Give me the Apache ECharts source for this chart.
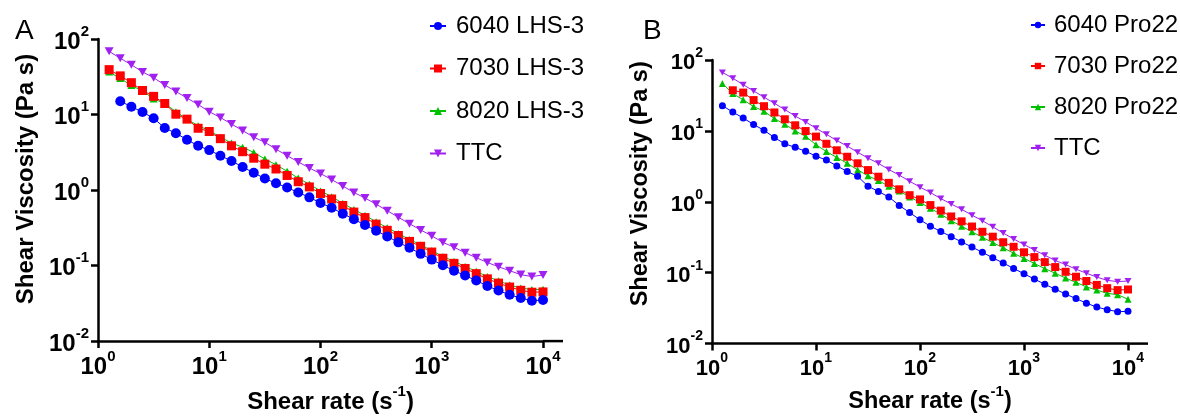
<!DOCTYPE html>
<html>
<head>
<meta charset="utf-8">
<script src="https://cdn.jsdelivr.net/npm/echarts@6/dist/echarts.min.js"></script>
<style>
  html, body { margin: 0; padding: 0; background: #fff; }
  #chart { width: 1180px; height: 419px; }
</style>
</head>
<body>
<div id="chart"></div>
<script>
// Shear rates (1/s), ten points per decade
const shearRate = [1.259, 1.585, 1.995, 2.512, 3.162, 3.981, 5.012, 6.310, 7.943, 10.00,
  12.59, 15.85, 19.95, 25.12, 31.62, 39.81, 50.12, 63.10, 79.43, 100.0,
  125.9, 158.5, 199.5, 251.2, 316.2, 398.1, 501.2, 631.0, 794.3, 1000,
  1259, 1585, 1995, 2512, 3162, 3981, 5012, 6310, 7943, 10000];

// Panel A: LHS-3 blends (viscosity, Pa s); null = no reading at that rate
const lhs6040 = [null, 15.0, 12.7, 10.8, 8.93, 6.63, 5.66, 4.64, 3.85, 3.38,
  2.85, 2.43, 2.02, 1.69, 1.42, 1.23, 1.08, 0.929, 0.800, 0.676,
  0.582, 0.487, 0.411, 0.344, 0.290, 0.243, 0.203, 0.172, 0.143, 0.120,
  0.101, 0.0855, 0.0737, 0.0635, 0.0536, 0.0467, 0.0410, 0.0372, 0.0343, 0.0350];
const lhs7030 = [39.3, 32.5, 26.4, 20.8, 17.4, 14.0, 10.1, 8.69, 6.58, 5.96,
  4.79, 3.85, 3.22, 2.64, 2.20, 1.90, 1.56, 1.29, 1.10, 0.901,
  0.761, 0.624, 0.511, 0.432, 0.354, 0.293, 0.250, 0.209, 0.180, 0.151,
  0.125, 0.107, 0.0916, 0.0782, 0.0667, 0.0586, 0.0520, 0.0471, 0.0444, 0.0448];
const lhs8020 = [36.6, 30.1, 24.2, 20.6, 16.1, 14.0, 10.9, 8.68, 7.11, 6.13,
  5.02, 4.20, 3.69, 3.15, 2.58, 2.16, 1.77, 1.44, 1.19, 0.975,
  0.816, 0.669, 0.553, 0.463, 0.380, 0.317, 0.265, 0.222, 0.188, 0.158,
  0.132, 0.114, 0.0973, 0.0838, 0.0715, 0.0628, 0.0552, 0.0505, 0.0481, 0.0485];
const ttcA = [68.6, 55.6, 45.6, 36.7, 30.7, 24.6, 20.2, 16.5, 13.6, 10.9,
  9.12, 7.48, 6.13, 5.02, 4.29, 3.48, 2.85, 2.36, 1.96, 1.65,
  1.38, 1.13, 0.929, 0.784, 0.650, 0.533, 0.436, 0.358, 0.296, 0.248,
  0.203, 0.175, 0.148, 0.127, 0.110, 0.0964, 0.0855, 0.0759, 0.0715, 0.0751];

// Panel B: Pro22 blends (viscosity, Pa s)
const pro6040 = [22.7, 18.4, 15.2, 12.3, 10.2, 8.05, 6.58, 5.86, 5.16, 4.40,
  3.88, 3.21, 2.68, 2.29, 1.66, 1.40, 1.17, 0.890, 0.705, 0.558,
  0.452, 0.382, 0.322, 0.272, 0.230, 0.194, 0.162, 0.137, 0.115, 0.0964,
  0.0813, 0.0687, 0.0586, 0.0500, 0.0431, 0.0372, 0.0327, 0.0301, 0.0282, 0.0285];
const pro7030 = [null, 37.4, 34.7, 27.2, 22.3, 18.2, 14.6, 12.0, 9.95, 8.31,
  6.58, 5.33, 4.32, 3.49, 2.80, 2.26, 1.85, 1.50, 1.24, 1.08,
  0.899, 0.751, 0.621, 0.530, 0.448, 0.378, 0.322, 0.269, 0.232, 0.194,
  0.166, 0.141, 0.120, 0.103, 0.0877, 0.0764, 0.0673, 0.0605, 0.0568, 0.0580];
const pro8020 = [46.7, 33.6, 27.5, 22.0, 19.0, 14.9, 12.4, 10.0, 8.39, 6.38,
  5.11, 4.22, 3.49, 2.82, 2.33, 1.99, 1.66, 1.42, 1.17, 0.979,
  0.810, 0.669, 0.541, 0.452, 0.378, 0.315, 0.266, 0.225, 0.188, 0.159,
  0.135, 0.114, 0.0984, 0.0839, 0.0731, 0.0631, 0.0568, 0.0511, 0.0490, 0.0422];
const ttcB = [66.9, 55.3, 44.8, 36.6, 29.9, 24.5, 20.0, 16.2, 13.4, 10.9,
  8.95, 7.31, 6.11, 5.00, 4.13, 3.49, 2.85, 2.38, 1.95, 1.61,
  1.35, 1.11, 0.929, 0.784, 0.648, 0.541, 0.443, 0.362, 0.299, 0.250,
  0.209, 0.176, 0.149, 0.130, 0.112, 0.0984, 0.0867, 0.0780, 0.0748, 0.0764];

const namesA = ['6040 LHS-3', '7030 LHS-3', '8020 LHS-3', 'TTC'];
const namesB = ['6040 Pro22', '7030 Pro22', '8020 Pro22', 'TTC'];
const yTicks = [0.01, 0.1, 1, 10, 100];
const xTicks = [1, 10, 100, 1000, 10000];

const FONT = '"Liberation Sans", Arial, Helvetica, sans-serif';
const BLUE = '#0000ff', RED = '#ff0000', GREEN = '#00c000', PURPLE = '#a020f0';

function pairs(values) {
  const out = [];
  values.forEach((v, i) => { if (v != null) out.push([shearRate[i], v]); });
  return out;
}

// power-of-ten label with a raised exponent
function powLabel(v) {
  const e = Math.round(Math.log10(v));
  return '{b|10}{e|' + e + '}';
}
function powRich(size) {
  return {
    b: { fontFamily: FONT, fontSize: size, fontWeight: 'bold', color: '#000', lineHeight: size + 6, verticalAlign: 'bottom' },
    e: { fontFamily: FONT, fontSize: Math.round(size * 0.63), fontWeight: 'bold', color: '#000', lineHeight: Math.round(size * 0.63), verticalAlign: 'top' }
  };
}
function nameRich(size) {
  return {
    t: { fontFamily: FONT, fontSize: size, fontWeight: 'bold', color: '#000', lineHeight: size + 6, verticalAlign: 'bottom' },
    s: { fontFamily: FONT, fontSize: Math.round(size * 0.63), fontWeight: 'bold', color: '#000', lineHeight: Math.round(size * 0.63), verticalAlign: 'top' }
  };
}

const axisLineStyle = { color: '#000', width: 2.5 };

function xAxisFor(gridIndex, labelSize, titleSize) {
  return {
    type: 'log', logBase: 10, gridIndex: gridIndex, min: 1, max: 10000, splitNumber: 4,
    axisLine: { show: true, lineStyle: axisLineStyle, symbol: ['none', 'rect'], symbolSize: [2.5, 20], symbolOffset: [0, 10] },
    axisTick: { show: true, length: 7, lineStyle: { color: '#000', width: 2.5 } },
    minorTick: { show: false },
    splitLine: { show: false },
    axisLabel: { margin: 8, formatter: powLabel, rich: powRich(labelSize) },
    name: '{t|Shear rate (s}{s|-1}{t|)}',
    nameLocation: 'middle', nameGap: 40,
    nameTextStyle: { padding: [0, 0, 0, 20], rich: nameRich(titleSize) }
  };
}
function yAxisFor(gridIndex, labelSize, titleSize, shift) {
  return {
    type: 'log', logBase: 10, gridIndex: gridIndex, min: 0.01, max: 100, splitNumber: 4,
    axisLine: { show: true, lineStyle: axisLineStyle },
    axisTick: { show: true, length: 7, lineStyle: { color: '#000', width: 2.5 } },
    minorTick: { show: false },
    splitLine: { show: false },
    axisLabel: { margin: 9, formatter: powLabel, rich: powRich(labelSize) },
    name: 'Shear Viscosity (Pa s)',
    nameLocation: 'middle', nameGap: 59,
    nameTextStyle: { fontFamily: FONT, fontSize: titleSize, fontWeight: 'bold', color: '#000', lineHeight: titleSize + 2, padding: [0, 0, 0, shift] }
  };
}

function lineSeries(name, values, color, symbol, size, axisIdx, rotate) {
  return {
    type: 'line', name: name, data: pairs(values),
    xAxisIndex: axisIdx, yAxisIndex: axisIdx,
    symbol: symbol, symbolSize: size, symbolRotate: rotate || 0,
    showAllSymbol: true,
    itemStyle: { color: color, borderWidth: 0 },
    lineStyle: { color: color, width: 1 },
    emphasis: { disabled: true },
    animation: false
  };
}

const chart = echarts.init(document.getElementById('chart'), null, { renderer: 'canvas' });

chart.setOption({
  backgroundColor: '#fff',
  animation: false,
  title: [
    { text: 'A', left: 10, top: 12, textStyle: { fontFamily: FONT, fontSize: 28, fontWeight: 'normal', color: '#000' } },
    { text: 'B', left: 638, top: 12, textStyle: { fontFamily: FONT, fontSize: 28, fontWeight: 'normal', color: '#000' } }
  ],
  grid: [
    { left: 98, top: 39, width: 445, height: 309, containLabel: false },
    { left: 712, top: 60, width: 416, height: 290, containLabel: false }
  ],
  legend: [
    {
      data: namesA, orient: 'vertical', left: 429, top: 14, padding: 0,
      itemWidth: 16, itemHeight: 10, itemGap: 18.5, selectedMode: false,
      textStyle: { fontFamily: FONT, fontSize: 24, color: '#000', lineHeight: 24, padding: [0, 0, 0, 5] }
    },
    {
      data: namesB, orient: 'vertical', left: 1030, top: 13, padding: 0,
      itemWidth: 14, itemHeight: 8, itemGap: 17, selectedMode: false,
      textStyle: { fontFamily: FONT, fontSize: 24, color: '#000', lineHeight: 24, padding: [0, 0, 0, 4] }
    }
  ],
  xAxis: [xAxisFor(0, 24, 24), xAxisFor(1, 22, 23.5)],
  yAxis: [yAxisFor(0, 24, 24, 22), yAxisFor(1, 22, 23.5, 36)],
  series: [
    lineSeries('TTC', ttcA, PURPLE, 'triangle', [9, 8], 0, 180),
    lineSeries('8020 LHS-3', lhs8020, GREEN, 'triangle', [8, 7], 0),
    lineSeries('7030 LHS-3', lhs7030, RED, 'rect', 9, 0),
    lineSeries('6040 LHS-3', lhs6040, BLUE, 'circle', 10, 0),
    lineSeries('TTC', ttcB, PURPLE, 'triangle', [7, 6], 1, 180),
    lineSeries('8020 Pro22', pro8020, GREEN, 'triangle', [7, 7], 1),
    lineSeries('7030 Pro22', pro7030, RED, 'rect', 8, 1),
    lineSeries('6040 Pro22', pro6040, BLUE, 'circle', 7, 1)
  ]
});
</script>
</body>
</html>
